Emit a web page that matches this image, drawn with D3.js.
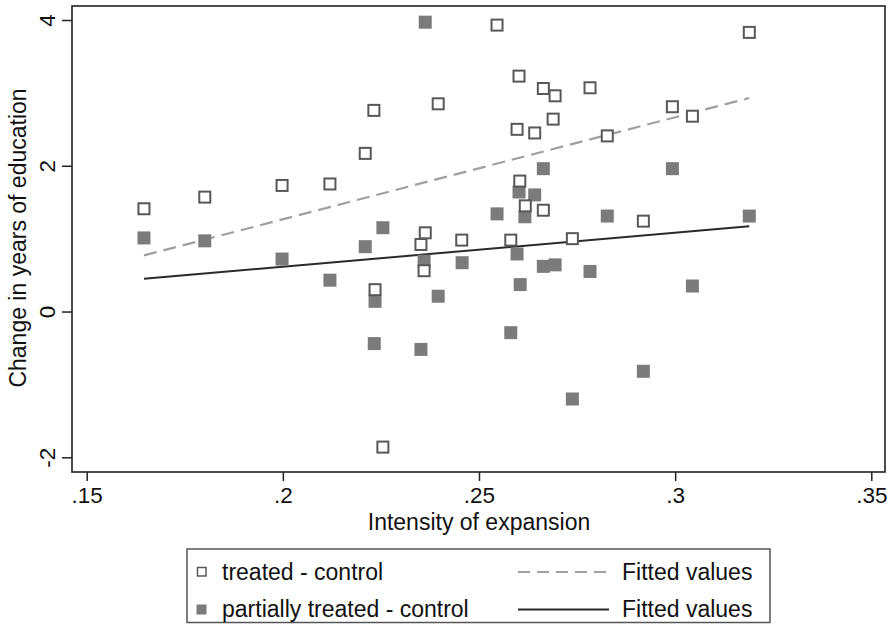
<!DOCTYPE html>
<html><head><meta charset="utf-8">
<script src="https://cdn.jsdelivr.net/npm/d3@7"></script>
<style>
body{margin:0;background:#fff;}
svg{display:block;font-family:"Liberation Sans",Arial,Helvetica,sans-serif;}
</style></head>
<body><svg id="c" width="890" height="624"></svg>
<script>
// Treated - control (hollow squares)
const treatedX = [.1646,.1801,.1998,.2120,.2210,.2232,.2235,.2255,.2352,.2363,.2360,.2396,.2456,.2546,.2581,.2597,.2602,.2604,.2618,.2642,.2664,.2664,.2689,.2694,.2738,.2783,.2827,.2919,.2993,.3044,.3189];
const treatedY = [1.41,1.57,1.73,1.75,2.17,2.76,0.30,-1.86,0.92,1.08,0.56,2.85,0.98,3.93,0.98,2.50,3.23,1.79,1.45,2.45,3.06,1.39,2.64,2.96,1.00,3.07,2.41,1.24,2.81,2.68,3.83];
// Partially treated - control (filled squares)
const partialX = [.1646,.1801,.1998,.2120,.2210,.2233,.2235,.2255,.2352,.2360,.2363,.2396,.2457,.2546,.2581,.2597,.2602,.2605,.2617,.2642,.2664,.2664,.2694,.2738,.2783,.2827,.2919,.2993,.3044,.3189];
const partialY = [1.01,0.97,0.72,0.43,0.89,-0.44,0.14,1.15,-0.52,0.69,3.97,0.21,0.67,1.34,-0.29,0.79,1.64,0.37,1.30,1.60,1.96,0.62,0.64,-1.20,0.55,1.31,-0.82,1.96,0.35,1.31];
// Fitted lines (end points)
const fitX = [.1646,.3189];
const fitTreated = [0.77,2.93];
const fitPartial = [0.45,1.17];
const xTicks = [.15,.2,.25,.3,.35];
const xTickLabels = [".15",".2",".25",".3",".35"];
const yTicks = [-2,0,2,4];
const yTickLabels = ["-2","0","2","4"];

const svg = d3.select("#c");
const frame = {l:72,r:885,t:6,b:472};
const x = d3.scaleLinear().domain([.15,.35]).range([86.7,871.3]);
const y = d3.scaleLinear().domain([-2,4]).range([457.3,20]);
const FS = 23;

// plot frame
svg.append("rect").attr("x",frame.l).attr("y",frame.t)
  .attr("width",frame.r-frame.l).attr("height",frame.b-frame.t)
  .attr("fill","none").attr("stroke","#222").attr("stroke-width",1.6);

// x axis
const xa = svg.append("g").attr("transform",`translate(0,${frame.b})`)
  .call(d3.axisBottom(x).tickValues(xTicks).tickFormat((d,i)=>xTickLabels[i]).tickSize(9).tickPadding(6));
xa.select(".domain").remove();
xa.selectAll("line").attr("stroke","#222").attr("stroke-width",1.5);
xa.selectAll("text").attr("font-size",22.5).attr("fill","#111").attr("font-family","Liberation Sans, Arial, sans-serif");

// y axis
const ya = svg.append("g").attr("transform",`translate(${frame.l},0)`)
  .call(d3.axisLeft(y).tickValues(yTicks).tickFormat((d,i)=>yTickLabels[i]).tickSize(10).tickPadding(0));
ya.select(".domain").remove();
ya.selectAll("line").attr("stroke","#222").attr("stroke-width",1.5);
ya.selectAll("text").attr("font-size",22.5).attr("fill","#111").attr("font-family","Liberation Sans, Arial, sans-serif")
  .attr("text-anchor","middle").attr("x",0).attr("dy",0)
  .attr("transform","translate(-25,0) rotate(-90) translate(0,8)");

// titles
svg.append("text").attr("x",479).attr("y",530).attr("text-anchor","middle")
  .attr("font-size",FS).attr("fill","#111").text("Intensity of expansion");
svg.append("text").attr("transform","translate(26,238) rotate(-90)").attr("text-anchor","middle")
  .attr("font-size",FS).attr("fill","#111").text("Change in years of education");

// fitted lines
const line = d3.line().x(d=>x(d[0])).y(d=>y(d[1]));
svg.append("path").datum(fitX.map((v,i)=>[v,fitTreated[i]])).attr("d",line)
  .attr("fill","none").attr("stroke","#a0a0a0").attr("stroke-width",2.2).attr("stroke-dasharray","13,7");
svg.append("path").datum(fitX.map((v,i)=>[v,fitPartial[i]])).attr("d",line)
  .attr("fill","none").attr("stroke","#2a2a2a").attr("stroke-width",2);

// filled squares
const fs = 13;
svg.append("g").selectAll("rect").data(partialX.map((v,i)=>[v,partialY[i]])).join("rect")
  .attr("x",d=>x(d[0])-fs/2).attr("y",d=>y(d[1])-fs/2).attr("width",fs).attr("height",fs)
  .attr("fill","#7b7b7b");
// hollow squares
const hs = 11;
svg.append("g").selectAll("rect").data(treatedX.map((v,i)=>[v,treatedY[i]])).join("rect")
  .attr("x",d=>x(d[0])-hs/2).attr("y",d=>y(d[1])-hs/2).attr("width",hs).attr("height",hs)
  .attr("fill","#fff").attr("stroke","#585858").attr("stroke-width",2);

// legend
const lg = svg.append("g");
lg.append("rect").attr("x",187).attr("y",549).attr("width",583).attr("height",73.5)
  .attr("fill","#fff").attr("stroke","#555").attr("stroke-width",1.5);
lg.append("rect").attr("x",197.5).attr("y",567.5).attr("width",8.5).attr("height",8.5)
  .attr("fill","#fff").attr("stroke","#585858").attr("stroke-width",1.5);
lg.append("rect").attr("x",196.5).attr("y",604.5).attr("width",10).attr("height",10)
  .attr("fill","#7b7b7b");
lg.append("text").attr("x",222).attr("y",580).attr("font-size",FS).attr("fill","#111").text("treated - control");
lg.append("text").attr("x",222).attr("y",617).attr("font-size",FS).attr("fill","#111").text("partially treated - control");
lg.append("line").attr("x1",518).attr("x2",609).attr("y1",572).attr("y2",572)
  .attr("stroke","#a0a0a0").attr("stroke-width",2).attr("stroke-dasharray","12,7");
lg.append("line").attr("x1",518).attr("x2",609).attr("y1",609.5).attr("y2",609.5)
  .attr("stroke","#2a2a2a").attr("stroke-width",2);
lg.append("text").attr("x",622).attr("y",580).attr("font-size",FS).attr("fill","#111").text("Fitted values");
lg.append("text").attr("x",622).attr("y",617).attr("font-size",FS).attr("fill","#111").text("Fitted values");
</script></body></html>
